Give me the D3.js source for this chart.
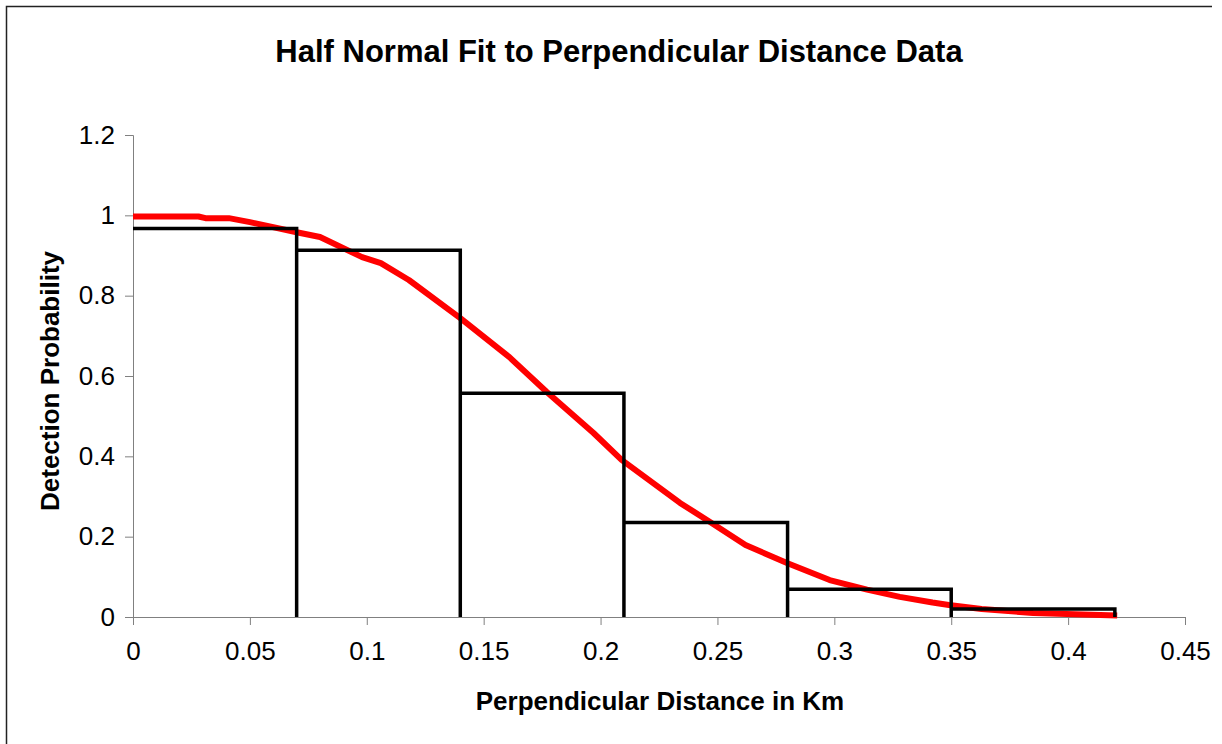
<!DOCTYPE html>
<html>
<head>
<meta charset="utf-8">
<script src="https://cdn.jsdelivr.net/npm/d3@7"></script>
<style>
  body { margin: 0; background: #fff; }
  text { font-family: "Liberation Sans", Arial, sans-serif; }
</style>
</head>
<body>
<script>
// Width and height
var w = 1222;
var h = 744;

// histogram bins (perpendicular distance, km) and observed detection proportion
var binEdges = [0, 0.07, 0.14, 0.21, 0.28, 0.35, 0.42];
var binHeights = [0.967, 0.913, 0.557, 0.235, 0.069, 0.02];

// fitted half normal curve
var fitX = [0, 0.028, 0.031, 0.041, 0.05, 0.07, 0.08, 0.098, 0.106, 0.118, 0.14, 0.161, 0.177,
            0.197, 0.209, 0.234, 0.247, 0.262, 0.28, 0.298, 0.314, 0.328, 0.342, 0.349, 0.363, 0.385, 0.421];
var fitY = [0.997, 0.997, 0.993, 0.993, 0.983, 0.958, 0.946, 0.896, 0.881, 0.839, 0.744, 0.647, 0.56,
            0.458, 0.391, 0.284, 0.236, 0.179, 0.134, 0.092, 0.068, 0.05, 0.036, 0.03, 0.02, 0.01, 0.004];

var xTicks = [0, 0.05, 0.1, 0.15, 0.2, 0.25, 0.3, 0.35, 0.4, 0.45];
var yTicks = [0, 0.2, 0.4, 0.6, 0.8, 1, 1.2];

var x = d3.scaleLinear().domain([0, 0.45]).range([133, 1185]);
var y = d3.scaleLinear().domain([0, 1.2]).range([617, 135]);

var svg = d3.select("body")
    .append("svg")
    .attr("width", w)
    .attr("height", h);

// chart frame (top and left edges visible)
svg.append("path")
    .attr("d", "M6.5," + h + "V6.5H1212")
    .attr("fill", "none")
    .attr("stroke", "#222")
    .attr("stroke-width", 1.5);

// axes
var xAxis = d3.axisBottom(x).tickValues(xTicks).tickFormat(d3.format("")).tickSizeOuter(0).tickSize(8);
var yAxis = d3.axisLeft(y).tickValues(yTicks).tickFormat(d3.format("")).tickSizeOuter(0).tickSize(8);

var gx = svg.append("g").attr("transform", "translate(0,617)").call(xAxis);
var gy = svg.append("g").attr("transform", "translate(133,0)").call(yAxis);

gx.select(".domain").attr("stroke", "#808080");
gy.select(".domain").attr("stroke", "#808080");
gx.selectAll(".tick line").attr("stroke", "#808080");
gy.selectAll(".tick line").attr("stroke", "#808080");
gx.selectAll(".tick text")
    .attr("font-size", 26)
    .attr("font-family", "Liberation Sans, Arial, sans-serif")
    .attr("fill", "#000")
    .attr("dy", null)
    .attr("y", 43);
gy.selectAll(".tick text")
    .attr("font-size", 26)
    .attr("font-family", "Liberation Sans, Arial, sans-serif")
    .attr("fill", "#000")
    .attr("x", -18);

// histogram drawn as a step line
var steps = [];
for (i = 0; i < binHeights.length; i++) {
  steps.push([binEdges[i], binHeights[i]]);
  steps.push([binEdges[i + 1], binHeights[i]]);
  steps.push([binEdges[i + 1], 0]);
}

var line = d3.line()
    .x(function(d){ return x(d[0]); })
    .y(function(d){ return y(d[1]); });

// fitted curve
var fit = fitX.map(function(d, i){ return [d, fitY[i]]; });

svg.append("path")
    .datum(fit)
    .attr("fill", "none")
    .attr("stroke", "#ff0000")
    .attr("stroke-width", 6)
    .attr("stroke-linejoin", "round")
    .attr("d", line);

svg.append("path")
    .datum(steps)
    .attr("fill", "none")
    .attr("stroke", "#000")
    .attr("stroke-width", 3.5)
    .attr("d", line);

// titles
svg.append("text")
    .attr("x", 619)
    .attr("y", 62)
    .attr("text-anchor", "middle")
    .attr("font-size", 31)
    .attr("font-weight", "bold")
    .text("Half Normal Fit to Perpendicular Distance Data");

svg.append("text")
    .attr("x", 660)
    .attr("y", 710)
    .attr("text-anchor", "middle")
    .attr("font-size", 26)
    .attr("font-weight", "bold")
    .text("Perpendicular Distance in Km");

svg.append("text")
    .attr("transform", "translate(59,381) rotate(-90)")
    .attr("text-anchor", "middle")
    .attr("font-size", 26)
    .attr("font-weight", "bold")
    .text("Detection Probability");
</script>
</body>
</html>
